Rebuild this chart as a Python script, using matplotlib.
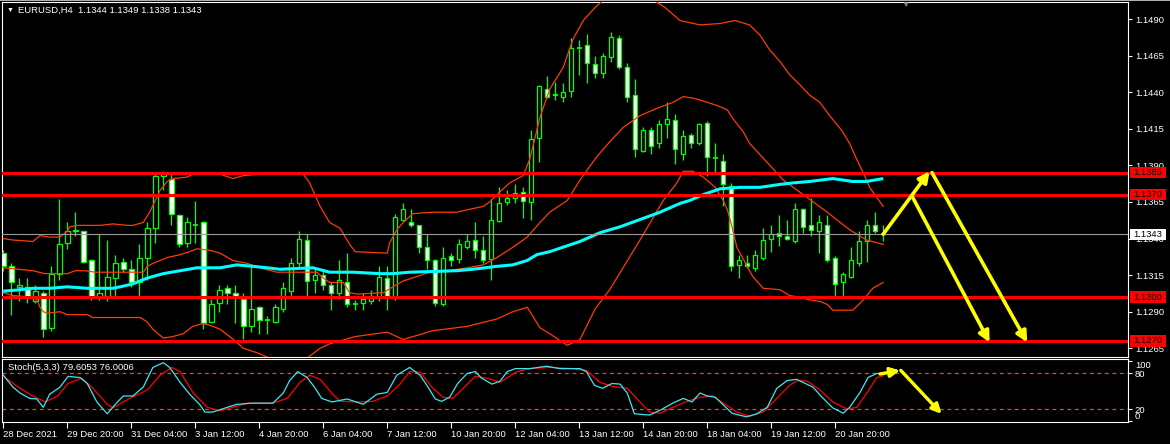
import matplotlib
matplotlib.use('Agg')
import matplotlib.pyplot as plt
from matplotlib.patches import Rectangle
from matplotlib import transforms

plt.rcParams['font.family'] = ['Liberation Sans', 'DejaVu Sans']

### candles (EURUSD H4, bar 0 = 28 Dec 2021 12:00) ###
opens = [1.1330, 1.1321, 1.1307, 1.1307, 1.1297, 1.1303, 1.1279, 1.1316, 1.1337, 1.1346,
         1.1345, 1.1325, 1.1300, 1.1301, 1.1313, 1.1324, 1.1319, 1.1310, 1.1327, 1.1347,
         1.1383, 1.1381, 1.1356, 1.1337, 1.1349, 1.1351, 1.1283, 1.1296, 1.1306, 1.1303,
         1.1299, 1.1280, 1.1293, 1.1284, 1.1283, 1.1292, 1.1304, 1.1323, 1.1339, 1.1312,
         1.1315, 1.1308, 1.1303, 1.1310, 1.1295, 1.1296, 1.1297, 1.1300, 1.1313, 1.1300,
         1.1353, 1.1351, 1.1349, 1.1334, 1.1325, 1.1295, 1.1328, 1.1326, 1.1334, 1.1339,
         1.1332, 1.1326, 1.1352, 1.1365, 1.1368, 1.1372, 1.1365, 1.1409, 1.1442, 1.1439,
         1.1437, 1.1441, 1.1470, 1.1472, 1.1459, 1.1453, 1.1464, 1.1477, 1.1457, 1.1438,
         1.1400, 1.1414, 1.1405, 1.1418, 1.1421, 1.1398, 1.1411, 1.1405, 1.1419, 1.1395,
         1.1393, 1.1376, 1.1322, 1.1323, 1.1320, 1.1327, 1.1340, 1.1344, 1.1342, 1.1338,
         1.1360, 1.1349, 1.1345, 1.1349, 1.1327, 1.1310, 1.1314, 1.1323, 1.1338, 1.1349,
         1.1344]
highs = [1.1332, 1.1323, 1.1313, 1.1313, 1.1308, 1.1304, 1.1321, 1.1367, 1.1351, 1.1358,
         1.1345, 1.1326, 1.1343, 1.1339, 1.1329, 1.1327, 1.1325, 1.1336, 1.1351, 1.1385,
         1.1386, 1.1384, 1.1357, 1.1355, 1.1366, 1.1352, 1.1299, 1.1308, 1.1308, 1.1308,
         1.1303, 1.1322, 1.1294, 1.1287, 1.1295, 1.1310, 1.1327, 1.1345, 1.1343, 1.1319,
         1.1319, 1.1310, 1.1325, 1.1330, 1.1298, 1.1303, 1.1305, 1.1321, 1.1321, 1.1357,
         1.1364, 1.1360, 1.1349, 1.1343, 1.1326, 1.1334, 1.1330, 1.1340, 1.1343, 1.1351,
         1.1342, 1.1367, 1.1375, 1.1373, 1.1377, 1.1375, 1.1414, 1.1445, 1.1451, 1.1447,
         1.1446, 1.1477, 1.1476, 1.1480, 1.1465, 1.1467, 1.1481, 1.1479, 1.1460, 1.1449,
         1.1416, 1.1416, 1.1421, 1.1433, 1.1425, 1.1414, 1.1412, 1.1419, 1.1420, 1.1405,
         1.1398, 1.1378, 1.1329, 1.1329, 1.1332, 1.1347, 1.1349, 1.1356, 1.1353, 1.1364,
         1.1361, 1.1368, 1.1356, 1.1356, 1.1328, 1.1317, 1.1334, 1.1345, 1.1353, 1.1358,
         1.1349]
lows = [1.1318, 1.1288, 1.1297, 1.1296, 1.1296, 1.1273, 1.1277, 1.1312, 1.1333, 1.1342,
        1.1323, 1.1298, 1.1298, 1.1297, 1.1301, 1.1317, 1.1307, 1.1301, 1.1312, 1.1337,
        1.1373, 1.1349, 1.1334, 1.1334, 1.1337, 1.1278, 1.1282, 1.1290, 1.1295, 1.1282,
        1.1271, 1.1276, 1.1275, 1.1275, 1.1282, 1.1290, 1.1301, 1.1320, 1.1301, 1.1303,
        1.1305, 1.1291, 1.1299, 1.1293, 1.1291, 1.1291, 1.1295, 1.1297, 1.1291, 1.1298,
        1.1352, 1.1348, 1.1330, 1.1319, 1.1294, 1.1294, 1.1321, 1.1323, 1.1333, 1.1327,
        1.1323, 1.1312, 1.1351, 1.1363, 1.1364, 1.1354, 1.1353, 1.1392, 1.1436, 1.1435,
        1.1433, 1.1437, 1.1452, 1.1446, 1.1450, 1.1450, 1.1461, 1.1456, 1.1433, 1.1396,
        1.1399, 1.1398, 1.1402, 1.1409, 1.1391, 1.1394, 1.1402, 1.1404, 1.1383, 1.1385,
        1.1362, 1.1318, 1.1313, 1.1320, 1.1318, 1.1325, 1.1331, 1.1335, 1.1339, 1.1337,
        1.1344, 1.1342, 1.1330, 1.1324, 1.1301, 1.1300, 1.1313, 1.1321, 1.1324, 1.1344,
        1.1338]
closes = [1.1321, 1.1310, 1.1308, 1.1300, 1.1304, 1.1278, 1.1316, 1.1336, 1.1345, 1.1345,
          1.1324, 1.1300, 1.1303, 1.1314, 1.1323, 1.1319, 1.1310, 1.1327, 1.1347, 1.1383,
          1.1384, 1.1357, 1.1336, 1.1351, 1.1349, 1.1282, 1.1295, 1.1305, 1.1303, 1.1301,
          1.1280, 1.1292, 1.1284, 1.1284, 1.1293, 1.1306, 1.1323, 1.1340, 1.1311, 1.1315,
          1.1308, 1.1303, 1.1312, 1.1295, 1.1295, 1.1299, 1.1301, 1.1314, 1.1300, 1.1355,
          1.1360, 1.1349, 1.1334, 1.1325, 1.1296, 1.1327, 1.1325, 1.1336, 1.1338, 1.1332,
          1.1325, 1.1353, 1.1364, 1.1368, 1.1371, 1.1366, 1.1408, 1.1444, 1.1437, 1.1438,
          1.1440, 1.1470, 1.1470, 1.1460, 1.1453, 1.1465, 1.1478, 1.1457, 1.1437, 1.1401,
          1.1414, 1.1403, 1.1418, 1.1422, 1.1401, 1.1410, 1.1405, 1.1418, 1.1396, 1.1395,
          1.1377, 1.1321, 1.1325, 1.1321, 1.1329, 1.1339, 1.1343, 1.1342, 1.1340, 1.1360,
          1.1348, 1.1346, 1.1351, 1.1325, 1.1309, 1.1316, 1.1325, 1.1338, 1.1349, 1.1345,
          1.1343]

### bollinger bands ###
ub_bar = [0, 1.2, 3.7, 4.6, 5.8, 7.1, 8.0, 8.3, 9.2, 12.1, 13.7, 15.5, 16.2, 17.5, 18.3,
          19.0, 19.6, 20.5, 21.2, 23.0, 23.7, 27.1, 28.7, 30.0, 32.1, 37.5, 38.3, 39.6,
          40.8, 42.1, 43.3, 44.0, 48.0, 48.3, 49.2, 50.0, 51.2, 53.7, 56.7, 58.3, 60.0,
          60.8, 62.1, 63.3, 65.0, 65.8, 67.1, 68.3, 70.0, 71.2, 72.5, 74.0, 75.8, 79.6,
          82.7, 84.6, 87.1, 89.6, 91.5, 93.3, 94.6, 95.8, 97.1, 98.3, 99.6, 100.8, 102.1,
          103.3, 104.8, 105.8, 106.7, 107.5, 108.3, 109.2, 110]
ub_px = [1.1340, 1.1339, 1.1338, 1.1342, 1.1341, 1.1341, 1.1345, 1.1348, 1.1349, 1.1349,
         1.1350, 1.1349, 1.1349, 1.1351, 1.1358, 1.1366, 1.1373, 1.1379, 1.1381, 1.1382,
         1.1384, 1.1384, 1.1381, 1.1383, 1.1384, 1.1384, 1.1378, 1.1362, 1.1351, 1.1347,
         1.1336, 1.1331, 1.1330, 1.1337, 1.1346, 1.1351, 1.1357, 1.1358, 1.1358, 1.1360,
         1.1362, 1.1365, 1.1372, 1.1378, 1.1383, 1.1394, 1.1423, 1.1442, 1.1457, 1.1476,
         1.1489, 1.1498, 1.1507, 1.1509, 1.1498, 1.1489, 1.1486, 1.1487, 1.1489, 1.1486,
         1.1479, 1.1469, 1.1461, 1.1452, 1.1445, 1.1438, 1.1433, 1.1424, 1.1414, 1.1405,
         1.1394, 1.1385, 1.1375, 1.1368, 1.1362]
mb_bar = [0, 3.7, 5.2, 8.0, 9.0, 10.2, 11.5, 17.5, 18.0, 18.7, 20.5, 22.1, 23.3, 24.2,
          25.8, 27.1, 28.7, 30.5, 32.1, 34.2, 39.2, 40.0, 40.8, 42.5, 43.3, 44.2, 47.5,
          48.7, 50.0, 51.7, 53.3, 54.2, 58.0, 60.0, 61.7, 63.7, 65.5, 67.1, 68.3, 70.5,
          72.1, 74.2, 75.8, 77.5, 79.6, 81.7, 83.7, 85.0, 86.2, 87.5, 89.2, 90.5, 91.2,
          92.5, 93.3, 95.5, 97.5, 100.5, 103.0, 105.8, 107.9, 110]
mb_px = [1.1320, 1.1318, 1.1316, 1.1316, 1.1318, 1.1318, 1.1317, 1.1317, 1.1321, 1.1323,
         1.1327, 1.1329, 1.1331, 1.1333, 1.1332, 1.1330, 1.1325, 1.1323, 1.1320, 1.1317,
         1.1317, 1.1313, 1.1310, 1.1310, 1.1303, 1.1302, 1.1303, 1.1307, 1.1311, 1.1314,
         1.1317, 1.1317, 1.1320, 1.1322, 1.1327, 1.1334, 1.1341, 1.1351, 1.1358, 1.1366,
         1.1380, 1.1396, 1.1406, 1.1416, 1.1424, 1.1429, 1.1433, 1.1437, 1.1436, 1.1434,
         1.1431, 1.1428, 1.1422, 1.1413, 1.1405, 1.1392, 1.1380, 1.1368, 1.1358, 1.1346,
         1.1339, 1.1336]
lb_bar = [0, 1.2, 3.7, 4.2, 4.6, 5.0, 5.5, 7.1, 8.0, 10.5, 11.2, 17.1, 18.0, 18.7, 20.0,
          21.2, 22.5, 23.7, 25.0, 26.2, 27.1, 28.3, 29.2, 30.0, 31.7, 33.0, 36.0, 39.6,
          40.8, 44.0, 48.0, 50.0, 53.7, 58.0, 61.7, 63.7, 65.5, 67.1, 68.3, 70.5, 72.1,
          74.0, 75.8, 79.6, 82.5, 84.2, 85.0, 86.2, 87.5, 89.0, 90.0, 90.5, 91.1, 91.7,
          93.0, 93.7, 95.0, 97.1, 98.3, 99.6, 100.8, 102.1, 103.0, 103.7, 106.2, 107.5,
          108.7, 110]
lb_px = [1.1303, 1.1301, 1.1300, 1.1298, 1.1293, 1.1290, 1.1289, 1.1290, 1.1288, 1.1288,
         1.1286, 1.1286, 1.1283, 1.1278, 1.1272, 1.1273, 1.1275, 1.1280, 1.1282, 1.1280,
         1.1278, 1.1273, 1.1269, 1.1265, 1.1262, 1.1259, 1.1250, 1.1265, 1.1268, 1.1273,
         1.1276, 1.1271, 1.1277, 1.1280, 1.1285, 1.1290, 1.1293, 1.1279, 1.1275, 1.1267,
         1.1271, 1.1292, 1.1305, 1.1339, 1.1366, 1.1378, 1.1386, 1.1386, 1.1382, 1.1375,
         1.1366, 1.1360, 1.1348, 1.1334, 1.1321, 1.1314, 1.1306, 1.1305, 1.1301, 1.1300,
         1.1298, 1.1297, 1.1295, 1.1291, 1.1291, 1.1298, 1.1306, 1.1310]

### moving average (cyan) ###
ma_bar = [0, 2.1, 3.7, 5.8, 8.0, 10.5, 13.7, 14.6, 16.2, 18.0, 20.0, 22.1, 24.2, 27.1,
          29.2, 31.2, 33.0, 34.6, 38.7, 40.8, 43.7, 47.1, 48.7, 50.8, 56.7, 58.7, 61.7,
          63.7, 65.5, 66.7, 68.3, 72.1, 74.6, 77.1, 79.6, 82.1, 84.6, 85.8, 87.5, 89.6,
          92.1, 94.6, 97.1, 98.7, 100.8, 103.7, 106.2, 107.9, 110]
ma_px = [1.1304, 1.1305, 1.1306, 1.1306, 1.1307, 1.1306, 1.1306, 1.1307, 1.1309, 1.1313,
         1.1316, 1.1318, 1.1320, 1.1320, 1.1322, 1.1321, 1.1320, 1.1319, 1.1320, 1.1317,
         1.1317, 1.1316, 1.1316, 1.1317, 1.1318, 1.1319, 1.1321, 1.1322, 1.1325, 1.1329,
         1.1331, 1.1338, 1.1344, 1.1348, 1.1353, 1.1358, 1.1364, 1.1366, 1.1370, 1.1374,
         1.1375, 1.1375, 1.1377, 1.1378, 1.1379, 1.1381, 1.1379, 1.1379, 1.1381]

### stochastic (5,3,3) ###
k_bar = [0, 1.2, 2.1, 3.3, 4.2, 5.0, 5.8, 7.1, 8.1, 9.6, 10.5, 11.7, 13.0, 14.0, 15.0,
         16.2, 17.5, 18.7, 20.0, 20.8, 22.1, 23.3, 24.6, 25.2, 26.2, 28.0, 29.2, 31.2,
         33.7, 35.0, 35.8, 36.8, 38.0, 39.0, 39.8, 41.1, 43.0, 45.0, 46.7, 48.0, 49.2,
         50.8, 52.1, 53.1, 54.0, 54.8, 55.8, 56.8, 58.0, 59.0, 59.8, 61.1, 62.1, 63.0,
         64.0, 65.8, 67.9, 69.6, 72.1, 72.9, 73.9, 74.9, 76.1, 77.1, 78.0, 78.9, 80.8,
         82.1, 83.7, 85.0, 86.1, 87.1, 88.0, 89.0, 91.1, 92.9, 94.2, 95.5, 96.7, 98.0,
         99.2, 101.2, 102.5, 103.7, 105.0, 105.8, 107.1, 108.1, 109.2, 110]
k_val = [77, 57, 47, 38, 37, 23, 45, 57, 75, 73, 63, 32, 12, 28, 42, 42, 57, 90, 98, 90,
         65, 45, 27, 15, 15, 23, 28, 30, 30, 47, 68, 83, 73, 55, 38, 32, 37, 28, 45, 48,
         77, 90, 77, 57, 37, 33, 40, 63, 80, 83, 72, 62, 67, 83, 88, 88, 92, 88, 88, 83,
         60, 55, 63, 62, 47, 12, 10, 18, 30, 38, 32, 47, 42, 40, 13, 7, 12, 23, 55, 68,
         70, 57, 38, 22, 13, 23, 48, 73, 80, 79.6]
d_bar = [0, 2.1, 3.7, 5.2, 6.8, 8.1, 9.8, 11.2, 13.0, 13.7, 15.8, 18.0, 19.6, 21.1, 22.1,
         23.7, 25.5, 27.1, 28.7, 30.5, 33.7, 35.5, 37.1, 38.3, 39.6, 41.2, 42.1, 44.6,
         46.2, 48.0, 49.6, 50.8, 52.1, 53.7, 55.0, 56.2, 57.5, 59.0, 60.5, 62.1, 64.2,
         65.8, 68.3, 71.2, 72.9, 74.6, 76.2, 78.0, 79.6, 80.8, 82.1, 83.7, 85.5, 87.1,
         88.7, 90.0, 91.7, 93.3, 95.0, 96.7, 98.3, 99.3, 100.5, 102.1, 103.7, 105.5,
         106.7, 108.0, 109.2, 110]
d_val = [75, 55, 42, 32, 42, 63, 72, 55, 28, 22, 38, 52, 77, 90, 83, 48, 23, 17, 23, 30,
         30, 38, 65, 77, 70, 45, 33, 32, 33, 42, 62, 83, 82, 55, 40, 38, 55, 75, 72, 65,
         83, 88, 90, 88, 85, 65, 58, 55, 32, 15, 13, 23, 33, 40, 42, 30, 15, 8, 15, 38,
         60, 68, 67, 52, 32, 20, 23, 48, 73, 76]

### levels, ticks, labels ###
levels = [1.1385, 1.1370, 1.1300, 1.1270]
bid = 1.1343
price_ticks = [1.1265, 1.1290, 1.1315, 1.1340, 1.1365, 1.1390, 1.1415, 1.1440, 1.1465, 1.1490]
time_ticks = [0, 8, 16, 24, 32, 40, 48, 56, 64, 72, 80, 88, 96, 104]
time_labels = ['28 Dec 2021', '29 Dec 20:00', '31 Dec 04:00', '3 Jan 12:00', '4 Jan 20:00',
               '6 Jan 04:00', '7 Jan 12:00', '10 Jan 20:00', '12 Jan 04:00', '13 Jan 12:00',
               '14 Jan 20:00', '18 Jan 04:00', '19 Jan 12:00', '20 Jan 20:00']
stoch_ticks = [0, 20, 80, 100]

# forecast arrows (bar, price) -> (bar, price)
arr_from_bar = [110, 116.1, 113.6]
arr_from_px = [1.1343, 1.1385, 1.1369]
arr_to_bar = [115.8, 128.0, 123.3]
arr_to_px = [1.1386, 1.1269, 1.1269]
sarr_from_bar = [109.6, 112.2]
sarr_from_val = [79, 85]
sarr_to_bar = [112.1, 117.3]
sarr_to_val = [85, 12]

GREEN = '#00ff00'
BAND = '#ff3c00'
YELLOW = '#ffff00'
FS = 6.8

W, H = 1170, 444
fig = plt.figure(figsize=(W / 100, H / 100), dpi=100, facecolor='black')
ax = fig.add_axes([2 / W, 1 - 356.5 / H, 1126 / W, 354.5 / H], facecolor='black')
ax2 = fig.add_axes([2 / W, 1 - 422 / H, 1126 / W, 63 / H], facecolor='black')
fig.add_artist(Rectangle((0, 1 - 1.5 / H), 1, 1.5 / H, transform=fig.transFigure,
                         facecolor='#b0b0b0', edgecolor='none'))

# candles
for i in range(len(closes)):
    o, h, l, c = opens[i], highs[i], lows[i], closes[i]
    ax.vlines(i, l, h, color=GREEN, lw=0.9, zorder=2)
    if c == o:
        ax.hlines(o, i - 0.3, i + 0.3, color=GREEN, lw=1.3, zorder=3)
    else:
        face = 'black' if c > o else 'white'
        ax.add_patch(Rectangle((i - 0.28, min(o, c)), 0.56, abs(c - o), facecolor=face,
                               edgecolor=GREEN, lw=0.9, zorder=3))

ax.plot(ub_bar, ub_px, color=BAND, lw=0.9, zorder=4)
ax.plot(mb_bar, mb_px, color=BAND, lw=0.9, zorder=4)
ax.plot(lb_bar, lb_px, color=BAND, lw=0.9, zorder=4)
ax.plot(ma_bar, ma_px, color='#00ffff', lw=2.2, zorder=4, solid_capstyle='butt')

ax.axhline(bid, color='#9a9a9a', lw=0.8, zorder=4)
for lv in levels:
    ax.axhline(lv, color='#ff0000', lw=2.2, zorder=5)

for fb, fp, tb, tp in zip(arr_from_bar, arr_from_px, arr_to_bar, arr_to_px):
    ax.annotate('', xy=(tb, tp), xytext=(fb, fp),
                arrowprops=dict(arrowstyle='-|>', color=YELLOW, lw=2.6, mutation_scale=16,
                                shrinkA=0, shrinkB=0), zorder=6)

ax.set_xlim(-0.16, 140.6)
ax.set_ylim(1.125937, 1.150168)
ax.set_xticks([])
ax.yaxis.tick_right()
ax.set_yticks(price_ticks)
ax.set_yticklabels(['%.4f' % p for p in price_ticks])
ax.tick_params(axis='y', colors='white', labelsize=FS, length=3, width=0.8, pad=2)

# price tags on the right scale (red for levels, white for bid)
ytr = transforms.blended_transform_factory(ax.transAxes, ax.transData)
tag_w = 36 / 1126
tag_h = 0.00076
for lv, face in [(l, '#ff0000') for l in levels] + [(bid, 'white')]:
    ax.add_patch(Rectangle((1.0016, lv - tag_h / 2), tag_w, tag_h, transform=ytr,
                           facecolor=face, edgecolor='none', clip_on=False, zorder=9))
    ax.text(1.0016 + tag_w / 2, lv, '%.4f' % lv, transform=ytr, color='black',
            fontsize=FS, va='center', ha='center', clip_on=False, zorder=10)

ax.annotate('\u25bc', xy=(0, 1), xycoords='axes fraction', xytext=(5, -8),
            textcoords='offset pixels', color='white', fontsize=5, va='center', ha='left')
ax.annotate('EURUSD,H4  1.1344 1.1349 1.1338 1.1343', xy=(0, 1), xycoords='axes fraction',
            xytext=(16, -8), textcoords='offset pixels', color='white', fontsize=FS,
            va='center', ha='left')
ax.annotate('\u25bc', xy=((905 - 2) / 1126, 1), xycoords='axes fraction', xytext=(0, -3),
            textcoords='offset pixels', color='#808080', fontsize=6, va='center', ha='center')

for s in ax.spines.values():
    s.set_color('white')
    s.set_linewidth(0.8)

# stochastic window
ax2.axhline(80, color='#ff4500', lw=0.9, ls=(0, (3, 3)))
ax2.axhline(20, color='#ff4500', lw=0.9, ls=(0, (3, 3)))
ax2.plot(d_bar, d_val, color='#ff0000', lw=0.9, zorder=3)
ax2.plot(k_bar, k_val, color='#3fe6f0', lw=0.9, zorder=4)
for fb, fv, tb, tv in zip(sarr_from_bar, sarr_from_val, sarr_to_bar, sarr_to_val):
    ax2.annotate('', xy=(tb, tv), xytext=(fb, fv),
                 arrowprops=dict(arrowstyle='-|>', color=YELLOW, lw=2.4, mutation_scale=14,
                                 shrinkA=0, shrinkB=0), zorder=6)
ax2.set_xlim(-0.16, 140.6)
ax2.set_ylim(-1.7, 104.2)
ax2.yaxis.tick_right()
ax2.set_yticks(stoch_ticks)
ax2.set_yticklabels([str(v) for v in stoch_ticks])
ax2.tick_params(axis='y', colors='white', labelsize=FS, length=3, width=0.8, pad=2)
labs = ax2.get_yticklabels()
labs[0].set_va('bottom')
labs[-1].set_va('top')
ax2.set_xticks(time_ticks)
ax2.set_xticklabels(time_labels, ha='left')
ax2.tick_params(axis='x', colors='white', labelsize=FS, length=4, width=0.8, pad=2)
ax2.annotate('Stoch(5,3,3) 79.6053 76.0006', xy=(0, 1), xycoords='axes fraction',
             xytext=(6, -9), textcoords='offset pixels', color='white', fontsize=FS,
             va='center', ha='left')
for s in ax2.spines.values():
    s.set_color('white')
    s.set_linewidth(0.8)

fig.savefig('out.png', dpi=100, facecolor='black')
